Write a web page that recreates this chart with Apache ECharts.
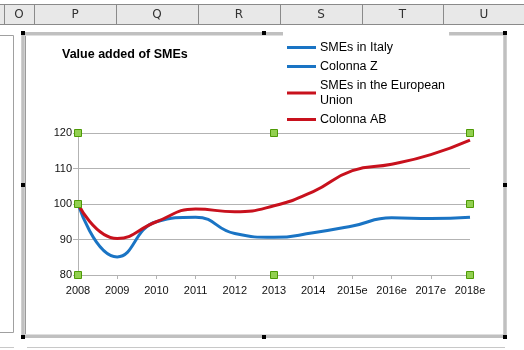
<!DOCTYPE html>
<html>
<head>
<meta charset="utf-8">
<script src="https://cdn.jsdelivr.net/npm/echarts@6/dist/echarts.min.js"></script>
<style>
html,body{margin:0;padding:0;background:#fff;}
#c{width:524px;height:350px;}
</style>
</head>
<body>
<div id="c"></div>
<script>
var categories = ['2008','2009','2010','2011','2012','2013','2014','2015e','2016e','2017e','2018e'];
var smesItaly = [100, 85.1, 95, 96.3, 91.7, 90.6, 91.9, 93.8, 96.1, 95.9, 96.3];
var colonnaZ = [];
var smesEU = [100, 90.3, 95, 98.6, 97.8, 99.5, 103.5, 109.4, 111.2, 113.9, 118];
var colonnaAB = [];
var yTicks = {min: 80, max: 120, interval: 10};
var columnLetters = ['O','P','Q','R','S','T','U'];

var G = {left: 78, top: 133, width: 392, height: 142};
var colEdges = [4, 34, 116, 198, 280, 362, 443, 525];

var blue = '#1a74c4';
var red = '#c8111d';

var graphics = [];
// spreadsheet header
graphics.push({type:'rect', shape:{x:0,y:4,width:524,height:20}, style:{fill:'#e8e8e8'}, z:0});
graphics.push({type:'line', shape:{x1:0,y1:4.5,x2:524,y2:4.5}, style:{stroke:'#8a8a8a',lineWidth:1}, z:1});
graphics.push({type:'line', shape:{x1:0,y1:24.5,x2:524,y2:24.5}, style:{stroke:'#8a8a8a',lineWidth:1}, z:1});
for (var i = 0; i < colEdges.length - 1; i++) {
  graphics.push({type:'line', shape:{x1:colEdges[i]+0.5,y1:4,x2:colEdges[i]+0.5,y2:24}, style:{stroke:'#8a8a8a',lineWidth:1}, z:1});
  graphics.push({type:'text', x:(colEdges[i]+colEdges[i+1])/2, y:14.5, style:{text:columnLetters[i], fill:'#333', font:'12px "DejaVu Sans"', align:'center', verticalAlign:'middle'}, z:2});
}
// left cell box
graphics.push({type:'rect', shape:{x:-2,y:35.5,width:15.5,height:297}, style:{fill:'#fff',stroke:'#a0a0a0',lineWidth:1}, z:0});
graphics.push({type:'line', shape:{x1:0,y1:347.5,x2:14,y2:347.5}, style:{stroke:'#c8c8c8',lineWidth:1}, z:0});
graphics.push({type:'line', shape:{x1:27,y1:347.5,x2:505,y2:347.5}, style:{stroke:'#c8c8c8',lineWidth:1}, z:0});
// chart frame
graphics.push({type:'rect', shape:{x:23,y:33.75,width:482,height:302.5}, style:{fill:'#fff',stroke:'#c0c0c0',lineWidth:3.5}, z:0});
graphics.push({type:'line', shape:{x1:25.5,y1:36,x2:25.5,y2:334}, style:{stroke:'#9a9a9a',lineWidth:1}, z:0});
var hx = [23, 264, 505], hy = [33, 185, 337];
for (var a = 0; a < 3; a++) for (var b = 0; b < 3; b++) {
  if (a === 1 && b === 1) continue;
  graphics.push({type:'rect', shape:{x:hx[a]-2,y:hy[b]-2,width:4,height:4}, style:{fill:'#000'}, z:3});
}
// plot-area selection handles
var gx = [G.left, G.left + G.width/2, G.left + G.width];
var gy = [G.top, G.top + G.height/2, G.top + G.height];
for (var a = 0; a < 3; a++) for (var b = 0; b < 3; b++) {
  if (a === 1 && b === 1) continue;
  graphics.push({type:'rect', shape:{x:gx[a]-3.5,y:gy[b]-3.5,width:7,height:7}, style:{fill:'#92d050',stroke:'#4e9a06',lineWidth:1}, z:100, zlevel:1});
}

var chart = echarts.init(document.getElementById('c'), null, {renderer:'canvas'});
chart.setOption({
  animation: false,
  textStyle: {fontFamily: '"Liberation Sans", Arial, sans-serif'},
  title: {
    text: 'Value added of SMEs', left: 62, top: 48, padding: 0,
    textStyle: {fontSize: 12.5, fontWeight: 'bold', color: '#000', fontFamily: '"Liberation Sans", Arial, sans-serif'}
  },
  legend: {
    orient: 'vertical', left: 283, top: 31,
    backgroundColor: '#fff', padding: [9, 4, 3, 4],
    itemWidth: 29, itemHeight: 3, itemGap: 4, icon: 'rect',
    formatter: function (n) { return n === 'SMEs in the European Union' ? 'SMEs in the European\nUnion' : n; },
    textStyle: {fontSize: 12.5, color: '#000', lineHeight: 15, padding: [0,0,0,-1]},
    data: ['SMEs in Italy', 'Colonna Z', 'SMEs in the European Union', 'Colonna AB']
  },
  grid: {left: G.left, top: G.top, width: G.width, height: G.height, containLabel: false},
  xAxis: {
    type: 'category', data: categories, boundaryGap: false,
    axisLine: {lineStyle: {color: '#b3b3b3', width: 1}},
    axisTick: {show: true, length: 4, lineStyle: {color: '#b3b3b3'}},
    axisLabel: {color: '#111', fontSize: 11, margin: 10, interval: 0}
  },
  yAxis: {
    type: 'value', min: yTicks.min, max: yTicks.max, interval: yTicks.interval,
    axisLine: {show: true, lineStyle: {color: '#b3b3b3', width: 1}},
    axisTick: {show: true, length: 5, lineStyle: {color: '#b3b3b3'}},
    splitLine: {lineStyle: {color: '#b3b3b3', width: 1}},
    axisLabel: {color: '#111', fontSize: 11, margin: 6}
  },
  series: [
    {name: 'SMEs in Italy', type: 'line', data: smesItaly, smooth: 0.5, showSymbol: false, symbol: 'none', color: blue, lineStyle: {width: 3, color: blue}},
    {name: 'Colonna Z', type: 'line', data: colonnaZ, smooth: 0.5, symbol: 'none', color: blue, lineStyle: {width: 3, color: blue}},
    {name: 'SMEs in the European Union', type: 'line', data: smesEU, smooth: 0.5, showSymbol: false, symbol: 'none', color: red, lineStyle: {width: 3, color: red}},
    {name: 'Colonna AB', type: 'line', data: colonnaAB, smooth: 0.5, symbol: 'none', color: red, lineStyle: {width: 3, color: red}}
  ],
  graphic: graphics
});
</script>
</body>
</html>
